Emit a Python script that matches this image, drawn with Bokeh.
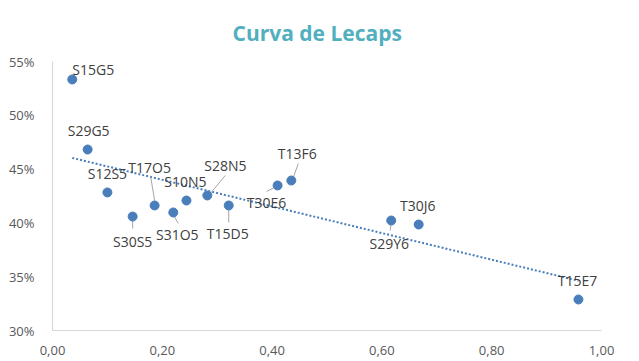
import numpy as np
from bokeh.plotting import figure
from bokeh.models import Range1d, CustomJSTickFormatter, ColumnDataSource, FixedTicker
from bokeh.core.properties import value
from bokeh.embed import file_html
from bokeh.resources import INLINE

# ---- data ----
names = ["S15G5", "S29G5", "S12S5", "S30S5", "T17O5", "S31O5", "S10N5",
         "S28N5", "T15D5", "T30E6", "T13F6", "S29Y6", "T30J6", "T15E7"]
duration = [0.036, 0.064, 0.100, 0.146, 0.186, 0.220, 0.244,
            0.282, 0.321, 0.410, 0.435, 0.617, 0.667, 0.958]
tna = [0.5333, 0.4682, 0.4283, 0.4059, 0.4162, 0.4097, 0.4208,
       0.4255, 0.4162, 0.4348, 0.4394, 0.4022, 0.3985, 0.3288]

x_ticks = [0.0, 0.2, 0.4, 0.6, 0.8, 1.0]
y_ticks = [0.30, 0.35, 0.40, 0.45, 0.50, 0.55]

# ---- label placement (screen px offsets from point, y down) ----
lab_dx = [21, 1, 0, 0, -5, 4, -1, 18, -1, -11, 6, -2, -1, -1]
lab_dy = [-10, -19, -19, 25, -38, 22, -19, -30, 28, 17, -27, 23, -19, -19]
# leader lines: index, start offset (label side), end offset (point side)
leaders = [(4, -4, -29, 0, -5), (7, 18, -20, 3, -2), (10, 7, -17, 2, -3),
           (9, -11, 6, -1, 1), (3, 0, 12, 0, 4), (5, 5, 11, 1, 4),
           (8, 0, 17, 0, 3), (11, -1, 10, 0, 2)]

W, H = 639, 361
ML, MR, MT, MB = 52, 38, 61, 31
fw = W - ML - MR
fh = H - MT - MB
xr = (0.0, 1.0)
yr = (0.30, 0.55)
px_x = (xr[1] - xr[0]) / fw
px_y = (yr[1] - yr[0]) / fh

p = figure(width=W, height=H, output_backend="svg", toolbar_location=None,
           x_range=Range1d(*xr), y_range=Range1d(*yr),
           min_border_left=ML, min_border_right=MR,
           min_border_top=MT, min_border_bottom=MB)
p.outline_line_color = None
p.grid.grid_line_color = None
p.background_fill_color = "white"
p.border_fill_color = "white"

p.title.text = "Curva de Lecaps"
p.title.align = "left"
p.title.offset = 180
p.title.text_font = "Open Sans"
p.title.text_font_size = "21px"
p.title.text_font_style = "bold"
p.title.text_color = "#52B0BE"
p.title.standoff = 30

for ax in (p.xaxis[0], p.yaxis[0]):
    ax.axis_line_color = "#D9D9D9"
    ax.axis_line_width = 1.2
    ax.major_tick_line_color = None
    ax.minor_tick_line_color = None
    ax.major_label_text_font = "Open Sans"
    ax.major_label_text_font_size = "13px"
    ax.major_label_text_color = "#595959"

p.xaxis[0].ticker = FixedTicker(ticks=x_ticks)
p.yaxis[0].ticker = FixedTicker(ticks=y_ticks)
p.xaxis[0].formatter = CustomJSTickFormatter(code="return tick.toFixed(2).replace('.', ',');")
p.yaxis[0].formatter = CustomJSTickFormatter(code="return Math.round(tick*100) + '%';")
p.xaxis[0].major_label_standoff = 9
p.yaxis[0].major_label_standoff = 12

# trend line (linear least squares of data)
slope, intercept = np.polyfit(duration, tna, 1)
tx = [min(duration), max(duration)]
ty = [slope * v + intercept for v in tx]
p.line(tx, ty, line_color="#4A7EBB", line_width=2, line_dash="2 2")

# leader lines
x0, y0, x1, y1 = [], [], [], []
for i, sx, sy, ex, ey in leaders:
    x0.append(duration[i] + sx * px_x)
    y0.append(tna[i] - sy * px_y)
    x1.append(duration[i] + ex * px_x)
    y1.append(tna[i] - ey * px_y)
p.segment(x0, y0, x1, y1, line_color="#A6A6A6", line_width=1)

src = ColumnDataSource(dict(x=duration, y=tna, name=names, dx=lab_dx, dy=lab_dy))
p.scatter("x", "y", source=src, size=9, fill_color="#4A7EBB", line_color="#4A7EBB")
p.text("x", "y", text="name", source=src, x_offset="dx", y_offset="dy",
       text_align="center", text_baseline="middle",
       text_font=value("Open Sans"), text_font_size="14px", text_color="#404040")

open("out.html", "w").write(file_html(p, INLINE))
